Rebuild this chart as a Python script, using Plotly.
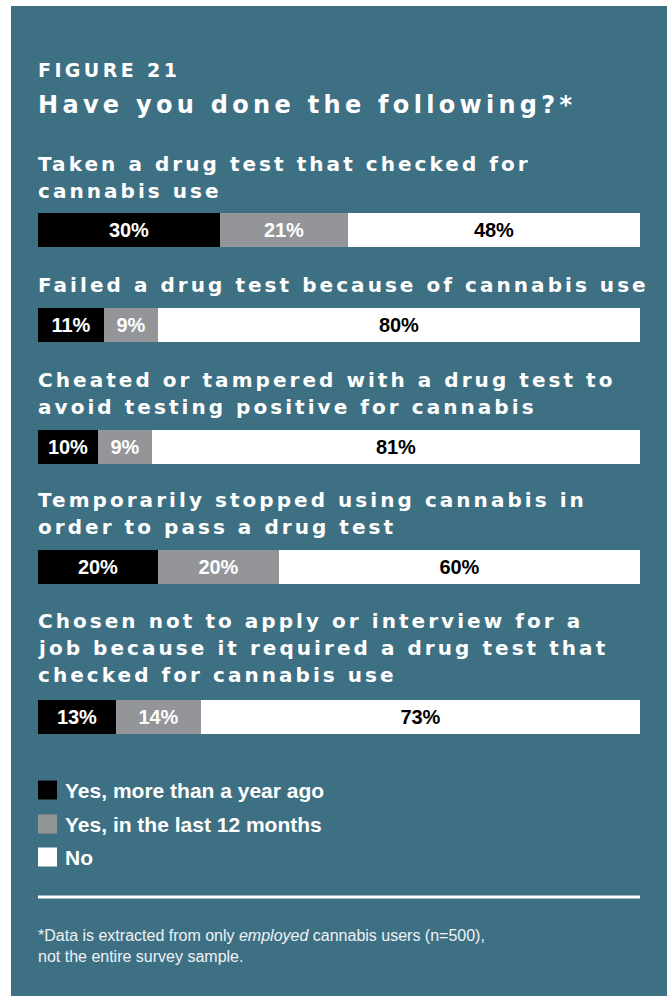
import plotly.graph_objects as go

# ---------------- data ----------------
questions = [
    "Taken a drug test that checked for<br>cannabis use",
    "Failed a drug test because of cannabis use",
    "Cheated or tampered with a drug test to<br>avoid testing positive for cannabis",
    "Temporarily stopped using cannabis in<br>order to pass a drug test",
    "Chosen not to apply or interview for a<br>job because it required a drug test that<br>checked for cannabis use",
]
series_names = ["Yes, more than a year ago", "Yes, in the last 12 months", "No"]
yes_year_ago = [30, 11, 10, 20, 13]
yes_last_12 = [21, 9, 9, 20, 14]
no_values = [48, 80, 81, 60, 73]

fig_label = "FIGURE 21"
title = "Have you done the following?*"
footnote = ("*Data is extracted from only <i>employed</i> cannabis users (n=500),<br>"
            "not the entire survey sample.")

# ---------------- style ----------------
W, H = 667, 996
TEAL = "#3e7084"
GRAY = "#939598"
colors = ["#000000", GRAY, "#ffffff"]
text_colors = ["#ffffff", "#ffffff", "#000000"]
HEAD_FONT = "DejaVu Sans"
BODY_FONT = "Liberation Sans, Arial, sans-serif"


def px_x(x):
    return x / W


def px_y(y):
    return 1 - y / H


def spaced(s, sp):
    return "<br>".join(f'<span style="letter-spacing:{sp}px">{ln}</span>' for ln in s.split("<br>"))


X0, X1 = 38, 640
bar_px = [(213, 247), (308, 342), (430, 464), (550, 584), (700, 734)]
label_px = [[164, 191], [285], [380, 407], [500, 527], [621, 648, 675]]

fig = go.Figure()
series = [yes_year_ago, yes_last_12, no_values]
layout_axes = {}
for i, q in enumerate(questions):
    ax = "" if i == 0 else str(i + 1)
    total = yes_year_ago[i] + yes_last_12[i] + no_values[i]
    for s, vals in enumerate(series):
        fig.add_trace(go.Bar(
            x=[vals[i]], y=[q], orientation="h",
            marker=dict(color=colors[s], line=dict(width=0)),
            name=series_names[s], showlegend=False,
            text=[f"{vals[i]}%"], textposition="inside",
            insidetextanchor="middle", constraintext="none",
            textfont=dict(family=BODY_FONT, size=20, color=text_colors[s], weight="bold"),
            width=1, xaxis="x" + ax, yaxis="y" + ax, hoverinfo="skip",
        ))
    top, bot = bar_px[i]
    layout_axes["xaxis" + ax] = dict(domain=[px_x(X0), px_x(X1)], range=[0, total],
                                     visible=False, anchor="y" + ax, fixedrange=True)
    layout_axes["yaxis" + ax] = dict(domain=[px_y(bot), px_y(top)], range=[-0.5, 0.5],
                                     visible=False, anchor="x" + ax, fixedrange=True)

annotations = []
annotations.append(dict(text=spaced(fig_label, 3.4), x=px_x(37), y=px_y(70),
                        font=dict(family=HEAD_FONT, size=19, color="white", weight="bold")))
annotations.append(dict(text=spaced(title, 4.3), x=px_x(37), y=px_y(105),
                        font=dict(family=HEAD_FONT, size=24, color="white", weight="bold")))
for i, q in enumerate(questions):
    for ln, yc in zip(q.split("<br>"), label_px[i]):
        annotations.append(dict(text=spaced(ln, 3.05), x=px_x(37), y=px_y(yc),
                                font=dict(family=HEAD_FONT, size=20, color="white", weight="bold")))

shapes = [dict(type="rect", xref="paper", yref="paper", x0=px_x(11), x1=1, y0=0, y1=px_y(6),
               fillcolor=TEAL, line=dict(width=0), layer="below")]

leg_px = [790, 824, 857]
for s, name in enumerate(series_names):
    yc = leg_px[s]
    shapes.append(dict(type="rect", xref="paper", yref="paper",
                       x0=px_x(38), x1=px_x(57), y0=px_y(yc + 9.5), y1=px_y(yc - 9.5),
                       fillcolor=colors[s], line=dict(width=0)))
    annotations.append(dict(text=name, x=px_x(63.5), y=px_y(yc),
                            font=dict(family=BODY_FONT, size=21, color="white", weight="bold")))

shapes.append(dict(type="line", xref="paper", yref="paper", x0=px_x(38), x1=px_x(640),
                   y0=px_y(897), y1=px_y(897), line=dict(color="white", width=3)))
annotations.append(dict(text=footnote, x=px_x(37), y=px_y(946), align="left",
                        font=dict(family=BODY_FONT, size=16, color="#eef2f4")))

for a in annotations:
    a.update(xref="paper", yref="paper", xanchor="left", yanchor="middle",
             showarrow=False, borderpad=0)

fig.update_layout(
    width=W, height=H, margin=dict(l=0, r=0, t=0, b=0),
    paper_bgcolor="white", plot_bgcolor="rgba(0,0,0,0)",
    barmode="stack", bargap=0, showlegend=False,
    annotations=annotations, shapes=shapes, **layout_axes,
)

fig.write_html("out.html", config={"displayModeBar": False})
